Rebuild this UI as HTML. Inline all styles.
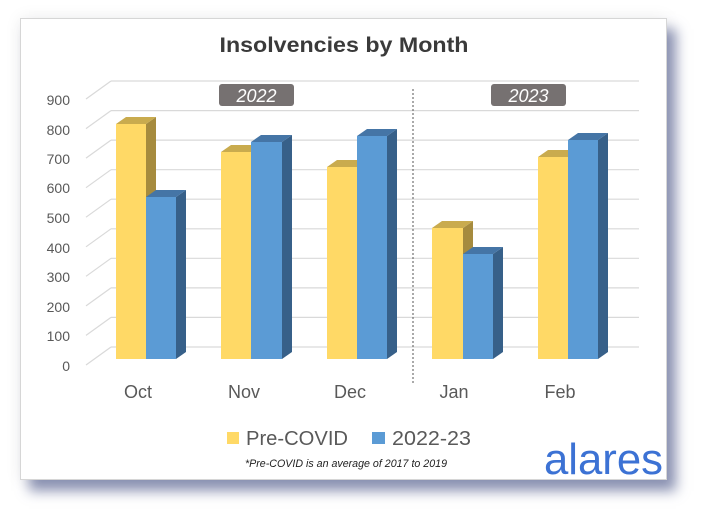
<!DOCTYPE html>
<html><head><meta charset="utf-8"><style>
html,body{margin:0;padding:0;background:#fff;}
body{width:709px;height:519px;position:relative;overflow:hidden;font-family:"Liberation Sans",sans-serif;}
.card{position:absolute;left:20px;top:18px;width:645px;height:460px;background:#fff;border:1px solid #d6d6d6;
box-shadow:9px 11px 12px rgba(80,90,140,0.65),0 0 16px rgba(0,0,0,0.07);}
svg{position:absolute;left:0;top:0;}
</style></head><body>
<div class="card"></div>
<svg width="709" height="519" viewBox="0 0 709 519" xmlns="http://www.w3.org/2000/svg" font-family="Liberation Sans, sans-serif">
<text x="344" y="52" text-anchor="middle" font-size="21" font-weight="bold" fill="#3a3a3a" textLength="249" lengthAdjust="spacingAndGlyphs">Insolvencies by Month</text>
<g stroke="#d9d9d9" stroke-width="1.2" fill="none">
<line x1="111" y1="81" x2="639" y2="81"/><line x1="111" y1="81" x2="86" y2="99"/>
<line x1="111" y1="110.6" x2="639" y2="110.6"/><line x1="111" y1="110.6" x2="86" y2="128.6"/>
<line x1="111" y1="140.1" x2="639" y2="140.1"/><line x1="111" y1="140.1" x2="86" y2="158.1"/>
<line x1="111" y1="169.7" x2="639" y2="169.7"/><line x1="111" y1="169.7" x2="86" y2="187.7"/>
<line x1="111" y1="199.2" x2="639" y2="199.2"/><line x1="111" y1="199.2" x2="86" y2="217.2"/>
<line x1="111" y1="228.8" x2="639" y2="228.8"/><line x1="111" y1="228.8" x2="86" y2="246.8"/>
<line x1="111" y1="258.3" x2="639" y2="258.3"/><line x1="111" y1="258.3" x2="86" y2="276.3"/>
<line x1="111" y1="287.9" x2="639" y2="287.9"/><line x1="111" y1="287.9" x2="86" y2="305.9"/>
<line x1="111" y1="317.4" x2="639" y2="317.4"/><line x1="111" y1="317.4" x2="86" y2="335.4"/>
<line x1="111" y1="347" x2="639" y2="347"/><line x1="111" y1="347" x2="86" y2="365"/>
</g>
<g font-size="14" fill="#595959" text-anchor="end">
<text x="70" y="105">900</text><text x="70" y="135">800</text><text x="70" y="164">700</text>
<text x="70" y="193">600</text><text x="70" y="223">500</text><text x="70" y="253">400</text>
<text x="70" y="282">300</text><text x="70" y="312">200</text><text x="70" y="341">100</text>
<text x="70" y="371">0</text>
</g>
<line x1="413" y1="89" x2="413" y2="383" stroke="#555" stroke-width="1" stroke-dasharray="2,2"/>
<rect x="219" y="84" width="75" height="22" rx="3" fill="#767171"/>
<text x="256.5" y="102" text-anchor="middle" font-size="18" font-style="italic" fill="#fff">2022</text>
<rect x="491" y="84" width="75" height="22" rx="3" fill="#767171"/>
<text x="528.5" y="102" text-anchor="middle" font-size="18" font-style="italic" fill="#fff">2023</text>
<g id="bars">
<!-- Oct -->
<polygon points="146,124 156,117 156,352 146,359" fill="#A68B3E"/>
<polygon points="116,124 146,124 156,117 126,117" fill="#C9AB4E"/>
<rect x="116" y="124" width="30" height="235" fill="#FFD966"/>
<polygon points="176,197 186,190 186,352 176,359" fill="#376089"/>
<polygon points="146,197 176,197 186,190 156,190" fill="#4575A6"/>
<rect x="146" y="197" width="30" height="162" fill="#5B9BD5"/>
<!-- Nov -->
<polygon points="251,152 261,145 261,352 251,359" fill="#A68B3E"/>
<polygon points="221,152 251,152 261,145 231,145" fill="#C9AB4E"/>
<rect x="221" y="152" width="30" height="207" fill="#FFD966"/>
<polygon points="282,142 292,135 292,352 282,359" fill="#376089"/>
<polygon points="251,142 282,142 292,135 261,135" fill="#4575A6"/>
<rect x="251" y="142" width="31" height="217" fill="#5B9BD5"/>
<!-- Dec -->
<polygon points="357,167 367,160 367,352 357,359" fill="#A68B3E"/>
<polygon points="327,167 357,167 367,160 337,160" fill="#C9AB4E"/>
<rect x="327" y="167" width="30" height="192" fill="#FFD966"/>
<polygon points="387,136 397,129 397,352 387,359" fill="#376089"/>
<polygon points="357,136 387,136 397,129 367,129" fill="#4575A6"/>
<rect x="357" y="136" width="30" height="223" fill="#5B9BD5"/>
<!-- Jan -->
<polygon points="463,228 473,221 473,352 463,359" fill="#A68B3E"/>
<polygon points="432,228 463,228 473,221 442,221" fill="#C9AB4E"/>
<rect x="432" y="228" width="31" height="131" fill="#FFD966"/>
<polygon points="493,254 503,247 503,352 493,359" fill="#376089"/>
<polygon points="463,254 493,254 503,247 473,247" fill="#4575A6"/>
<rect x="463" y="254" width="30" height="105" fill="#5B9BD5"/>
<!-- Feb -->
<polygon points="568,157 578,150 578,352 568,359" fill="#A68B3E"/>
<polygon points="538,157 568,157 578,150 548,150" fill="#C9AB4E"/>
<rect x="538" y="157" width="30" height="202" fill="#FFD966"/>
<polygon points="598,140 608,133 608,352 598,359" fill="#376089"/>
<polygon points="568,140 598,140 608,133 578,133" fill="#4575A6"/>
<rect x="568" y="140" width="30" height="219" fill="#5B9BD5"/>
</g>
<g font-size="18" fill="#595959" text-anchor="middle">
<text x="138" y="398">Oct</text><text x="244" y="398">Nov</text><text x="350" y="398">Dec</text>
<text x="454" y="398">Jan</text><text x="560" y="398">Feb</text>
</g>
<rect x="227" y="432" width="12" height="12" fill="#FFD966"/>
<text x="246" y="445" font-size="20" fill="#595959" textLength="102" lengthAdjust="spacingAndGlyphs">Pre-COVID</text>
<rect x="372" y="432" width="13" height="12" fill="#5B9BD5"/>
<text x="392" y="445" font-size="20" fill="#595959" textLength="79" lengthAdjust="spacingAndGlyphs">2022-23</text>
<text x="245" y="467" font-size="11" font-style="italic" fill="#222" textLength="202" lengthAdjust="spacingAndGlyphs">*Pre-COVID is an average of 2017 to 2019</text>
<text x="544" y="474" font-size="44" fill="#3c72d4" textLength="119" lengthAdjust="spacingAndGlyphs">alares</text>
</svg>
</body></html>
